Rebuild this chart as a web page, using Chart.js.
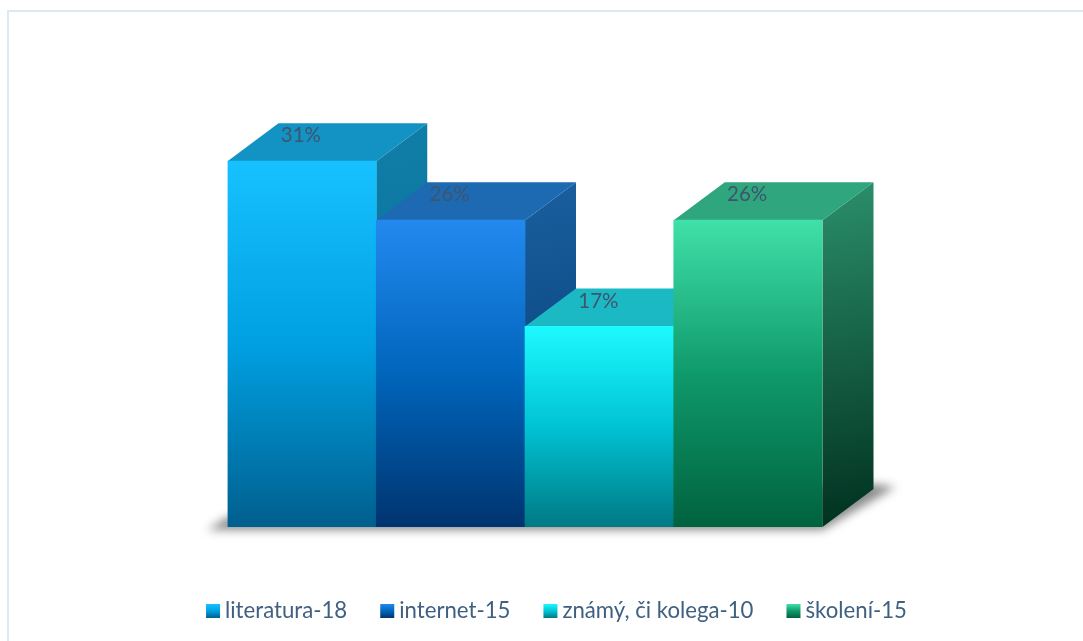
<!DOCTYPE html>
<html>
<head>
<meta charset="utf-8">
<title>Chart</title>
<script src="https://cdn.jsdelivr.net/npm/chart.js@4"></script>
<style>
    html, body { margin: 0; padding: 0; background: #fff; overflow: hidden; }
    #wrap { position: relative; width: 1083px; height: 641px; }
    #frame { position: absolute; left: 7px; top: 10px; right: 0; bottom: 0; border-top: 2px solid #dce9f0; border-left: 2px solid #dce9f0; }
    canvas { position: absolute; left: 0; top: 0; }
</style>
</head>
<body>
<div id="wrap">
    <div id="frame"></div>
    <canvas id="bar_chart" width="1083" height="641"></canvas>
</div>
<script>
var categories = ["literatura-18", "internet-15", "známý, či kolega-10", "školení-15"];
var percentValues = [31, 26, 17, 26];

// front face gradients, top to bottom
var frontStops = [
    ["#17c1ff", "#00a0e2", "#005f8e"],
    ["#2389ef", "#0065bb", "#00346f"],
    ["#1df9ff", "#00c3d4", "#007984"],
    ["#40e0a9", "#0f9a6b", "#00623f"]
];
var topColors = ["#1293c3", "#1d6ab2", "#1bb9c3", "#2fa67e"];
var sideStops = [
    ["#117ea8", "#006a96"],
    ["#1a5f9f", "#003a6f"],
    ["#11838f", "#005a66"],
    ["#2b8f6b", "#00301f"]
];

var depthX = 51, depthY = 38;
var textColor = "#3f556e";
var legendColor = "#3f6080";

function makeGradient(ctx, y0, y1, stops) {
    var g = ctx.createLinearGradient(0, y0, 0, y1);
    stops.forEach(function(c, i) {
        g.addColorStop(i / (stops.length - 1), c);
    });
    return g;
}

// 3D faces and the floor shadow go behind the front faces
var depthPlugin = {
    id: "depth",
    beforeDatasetsDraw: function(chart) {
        var ctx = chart.ctx;
        var bars = chart.getDatasetMeta(0).data;
        var first = bars[0], last = bars[bars.length - 1];
        var left = first.x - first.width / 2;
        var right = last.x + last.width / 2;
        var base = first.base;

        ctx.save();
        ctx.filter = "blur(5px)";
        ctx.fillStyle = "rgba(70,70,70,0.62)";
        ctx.beginPath();
        ctx.moveTo(left - 20, base + 3);
        ctx.lineTo(right, base + 3);
        ctx.lineTo(right + depthX + 22, base - depthY - 2);
        ctx.lineTo(right + depthX, base - depthY - 5);
        ctx.lineTo(left, base - 10);
        ctx.closePath();
        ctx.fill();
        ctx.restore();

        bars.forEach(function(bar, i) {
            var l = bar.x - bar.width / 2, r = bar.x + bar.width / 2;
            var top = bar.y, bottom = bar.base;

            // side
            var g = ctx.createLinearGradient(r, top - depthY, r + depthX, bottom);
            g.addColorStop(0, sideStops[i][0]);
            g.addColorStop(1, sideStops[i][1]);
            ctx.fillStyle = g;
            ctx.beginPath();
            ctx.moveTo(r, top);
            ctx.lineTo(r + depthX, top - depthY);
            ctx.lineTo(r + depthX, bottom - depthY);
            ctx.lineTo(r, bottom);
            ctx.closePath();
            ctx.fill();

            // top
            ctx.fillStyle = topColors[i];
            ctx.beginPath();
            ctx.moveTo(l, top);
            ctx.lineTo(l + depthX, top - depthY);
            ctx.lineTo(r + depthX, top - depthY);
            ctx.lineTo(r, top);
            ctx.closePath();
            ctx.fill();
        });
    },
    afterDatasetsDraw: function(chart) {
        var ctx = chart.ctx;
        var bars = chart.getDatasetMeta(0).data;

        // percent labels sit on the top faces
        ctx.save();
        ctx.fillStyle = textColor;
        ctx.font = "20.5px Lato";
        ctx.textAlign = "center";
        ctx.textBaseline = "middle";
        bars.forEach(function(bar, i) {
            ctx.fillText(percentValues[i] + "%", bar.x - 1, bar.y - 25.5);
        });
        ctx.restore();

        // legend
        ctx.save();
        ctx.font = "22.2px Lato";
        ctx.textBaseline = "middle";
        var total = 0;
        categories.forEach(function(c, i) {
            total += 19 + ctx.measureText(c).width + (i < categories.length - 1 ? 33 : 0);
        });
        var x = 556.5 - total / 2;
        var y = 611;
        categories.forEach(function(c, i) {
            ctx.fillStyle = makeGradient(ctx, y - 7, y + 7, frontStops[i]);
            ctx.fillRect(x, y - 7, 14, 14);
            ctx.fillStyle = legendColor;
            ctx.fillText(c, x + 19, y);
            x += 19 + ctx.measureText(c).width + 33;
        });
        ctx.restore();
    }
};

var ctx = document.getElementById("bar_chart").getContext("2d");
new Chart(ctx, {
    type: "bar",
    data: {
        labels: categories,
        datasets: [{
            data: percentValues,
            borderWidth: 0,
            barPercentage: 1,
            categoryPercentage: 1,
            backgroundColor: function(c) {
                var chart = c.chart;
                if (!chart.chartArea || c.dataIndex === undefined) return frontStops[0][0];
                var y = chart.scales.y;
                return makeGradient(chart.ctx, y.getPixelForValue(percentValues[c.dataIndex]), y.getPixelForValue(0), frontStops[c.dataIndex]);
            }
        }]
    },
    options: {
        responsive: false,
        animation: false,
        layout: { padding: { left: 227.5, right: 260.5, top: 114, bottom: 114 } },
        scales: {
            x: { display: false },
            y: { display: false, min: 0, max: 35 }
        },
        plugins: {
            legend: { display: false },
            tooltip: { enabled: false }
        }
    },
    plugins: [depthPlugin]
});
</script>
</body>
</html>
